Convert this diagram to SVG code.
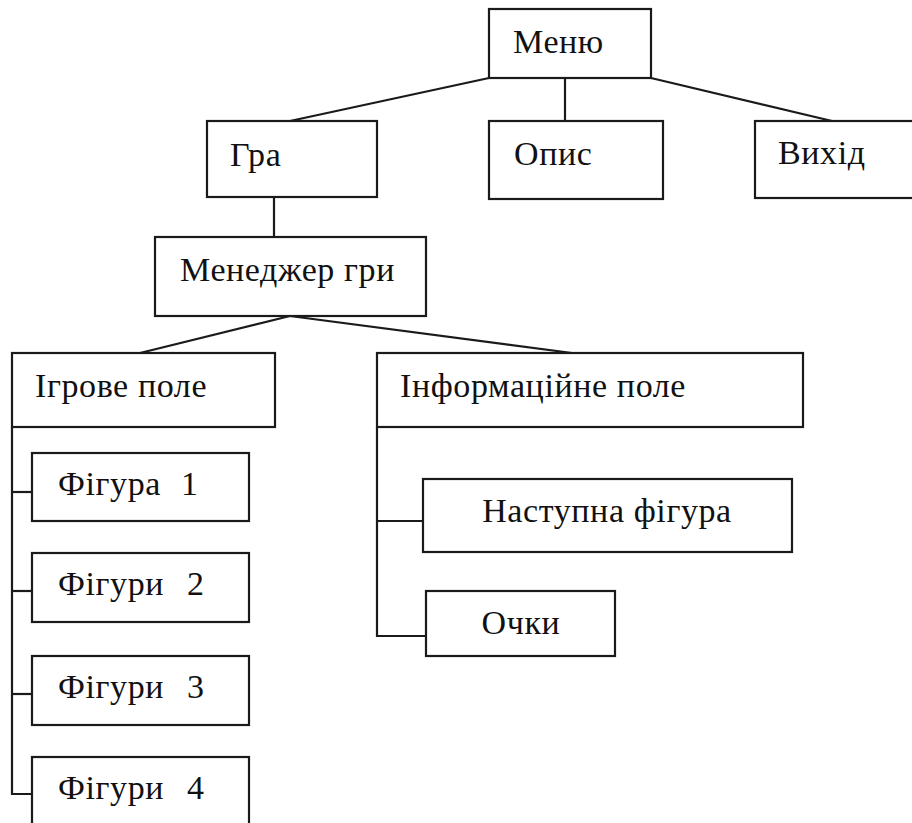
<svg xmlns="http://www.w3.org/2000/svg" width="912" height="823" viewBox="0 0 912 823">
<style>
.box{fill:#fff;stroke:#1a1a1a;stroke-width:2.2}
.c{stroke:#1a1a1a;stroke-width:2.2;fill:none}
text{font-family:"Liberation Serif","Times New Roman",serif;font-size:34px;fill:#111;letter-spacing:0.6px}
.m{text-anchor:middle}
</style>
<rect width="912" height="823" fill="#fff"/>
<g id="connectors">
<line class="c" x1="489" y1="78" x2="290" y2="121"/>
<line class="c" x1="565" y1="78" x2="565" y2="121"/>
<line class="c" x1="651" y1="78" x2="832" y2="121"/>
<line class="c" x1="274" y1="197" x2="274" y2="237"/>
<line class="c" x1="290" y1="316" x2="140" y2="353"/>
<line class="c" x1="290" y1="316" x2="572" y2="353"/>
<polyline class="c" points="12,427 12,794 32,794"/>
<line class="c" x1="12" y1="492" x2="32" y2="492"/>
<line class="c" x1="12" y1="591" x2="32" y2="591"/>
<line class="c" x1="12" y1="694" x2="32" y2="694"/>
<polyline class="c" points="377,427 377,636 426,636"/>
<line class="c" x1="377" y1="521" x2="423" y2="521"/>
</g>
<g id="menu"><rect class="box" x="489" y="9" width="162" height="69"/><text x="513" y="53">Меню</text></g>
<g id="gra"><rect class="box" x="207" y="121" width="170" height="76"/><text x="230" y="166">Гра</text></g>
<g id="opys"><rect class="box" x="489" y="121" width="174" height="78"/><text x="514" y="165">Опис</text></g>
<g id="vykhid"><rect class="box" x="755" y="121" width="170" height="77"/><text x="778" y="164">Вихід</text></g>
<g id="manager"><rect class="box" x="155" y="237" width="271" height="79"/><text x="180" y="281">Менеджер гри</text></g>
<g id="game-field"><rect class="box" x="12" y="353" width="263" height="74"/><text x="35" y="397">Ігрове поле</text></g>
<g id="info-field"><rect class="box" x="377" y="353" width="426" height="74"/><text x="400" y="397">Інформаційне поле</text></g>
<g id="fig1"><rect class="box" x="32" y="453" width="217" height="68"/><text x="58" y="495">Фігура<tspan x="181">1</tspan></text></g>
<g id="fig2"><rect class="box" x="32" y="553" width="217" height="69"/><text x="58" y="595">Фігури<tspan x="187">2</tspan></text></g>
<g id="fig3"><rect class="box" x="32" y="656" width="217" height="69"/><text x="58" y="698">Фігури<tspan x="187">3</tspan></text></g>
<g id="fig4"><rect class="box" x="32" y="757" width="217" height="80"/><text x="58" y="799">Фігури<tspan x="187">4</tspan></text></g>
<g id="next-figure"><rect class="box" x="423" y="479" width="369" height="73"/><text class="m" x="607" y="522">Наступна фігура</text></g>
<g id="score"><rect class="box" x="426" y="591" width="189" height="65"/><text class="m" x="521" y="634">Очки</text></g>
</svg>
